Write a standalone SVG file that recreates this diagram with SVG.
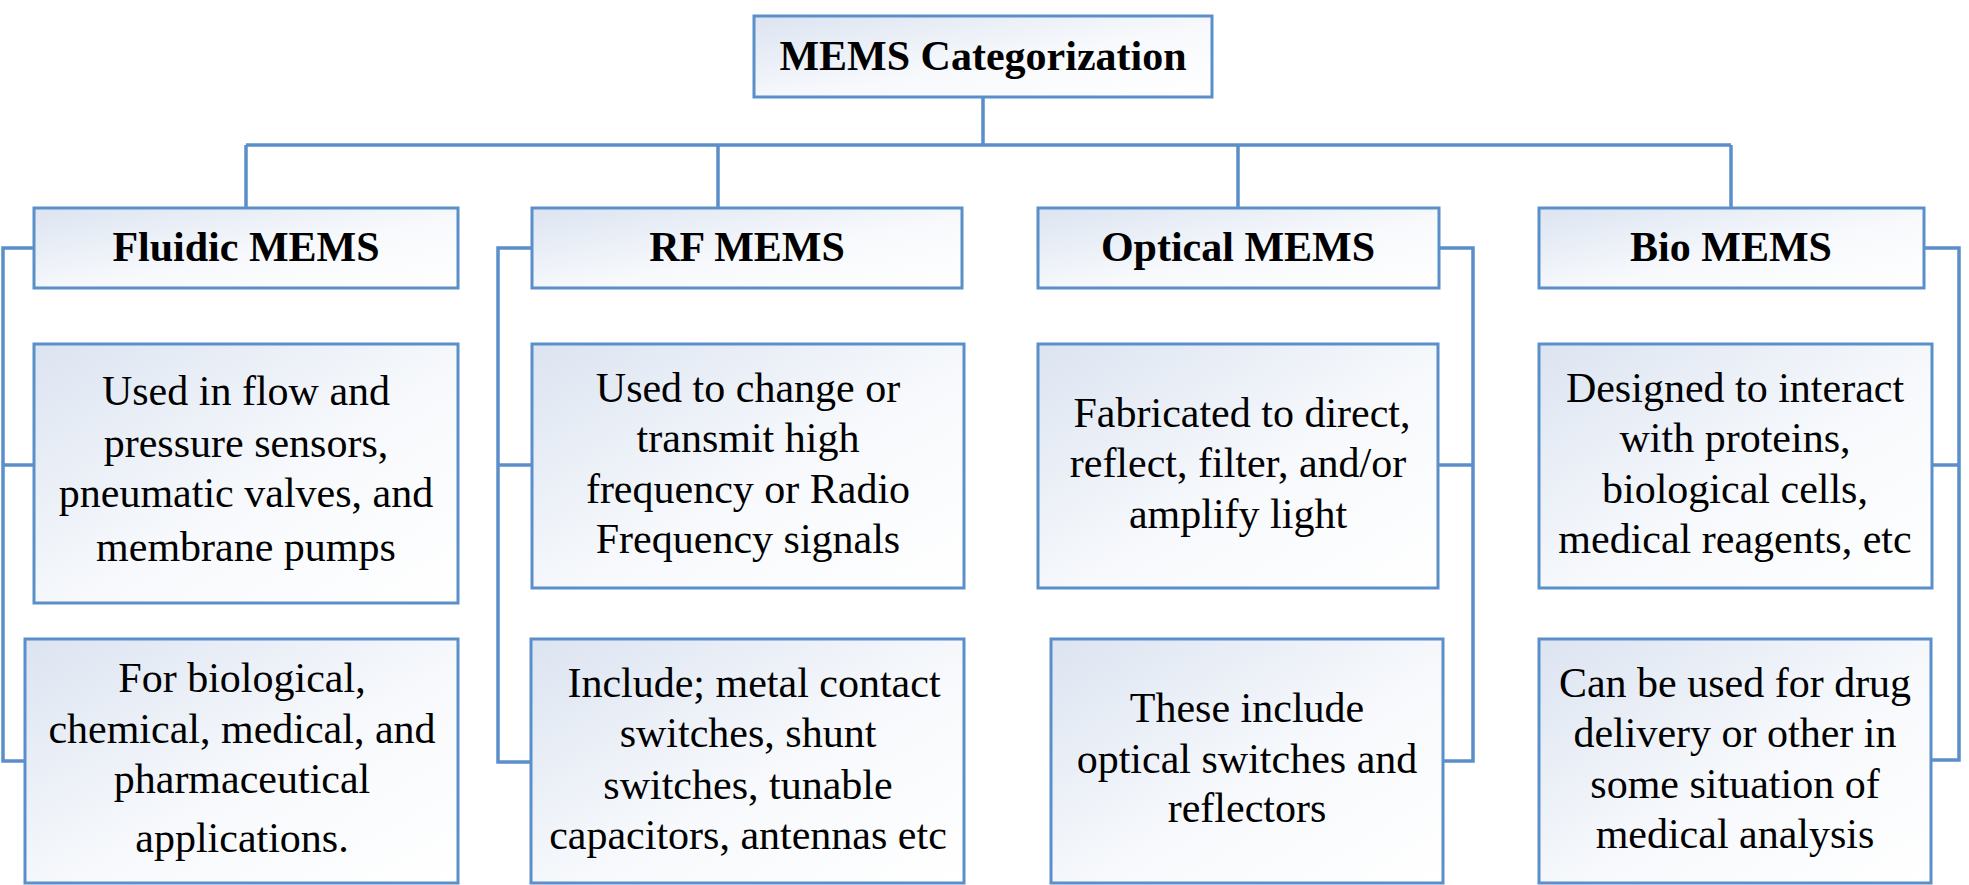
<svg xmlns="http://www.w3.org/2000/svg" width="1969" height="885" viewBox="0 0 1969 885">
<defs>
<linearGradient id="g" x1="0" y1="0" x2="1" y2="1">
<stop offset="0" stop-color="#dce4f1"/>
<stop offset="0.55" stop-color="#f7f9fc"/>
<stop offset="1" stop-color="#ffffff"/>
</linearGradient>
</defs>
<style>
.box{fill:url(#g);stroke:#5b8fc9;stroke-width:3}
.conn{fill:none;stroke:#5b8fc9;stroke-width:3.5}
</style>
<rect width="1969" height="885" fill="#ffffff"/>
<g id="connectors">
<path class="conn" d="M983 97 V145 M246 145 H1731 M246 145 V208 M718 145 V208 M1238 145 V208 M1731 145 V208"/>
<path class="conn" d="M34 248 H3 V761 H25 M3 465 H34"/>
<path class="conn" d="M532 248 H498 V762 H531 M498 465 H532"/>
<path class="conn" d="M1439 248 H1473 V761 H1443 M1473 465 H1438"/>
<path class="conn" d="M1924 248 H1959 V760 H1931 M1959 465 H1932"/>
</g>
<g id="root">
<rect class="box" x="754" y="16" width="458" height="81"/>
<text font-family="Times New Roman, Tinos, serif" font-size="42" font-weight="bold" text-anchor="middle" x="983" y="70">MEMS Categorization</text>
</g>
<g id="fluidic">
<rect class="box" x="34" y="208" width="424" height="80"/>
<text font-family="Times New Roman, Tinos, serif" font-size="42" font-weight="bold" text-anchor="middle" x="246" y="261">Fluidic MEMS</text>
</g>
<g id="fluidic-1">
<rect class="box" x="34" y="344" width="424" height="259"/>
<text font-family="Times New Roman, Tinos, serif" font-size="42" text-anchor="middle" x="246" y="405">Used in flow and</text>
<text font-family="Times New Roman, Tinos, serif" font-size="42" text-anchor="middle" x="246" y="457">pressure sensors,</text>
<text font-family="Times New Roman, Tinos, serif" font-size="42" text-anchor="middle" x="246" y="507">pneumatic valves, and</text>
<text font-family="Times New Roman, Tinos, serif" font-size="42" text-anchor="middle" x="246" y="561">membrane pumps</text>
</g>
<g id="fluidic-2">
<rect class="box" x="25" y="639" width="433" height="244"/>
<text font-family="Times New Roman, Tinos, serif" font-size="42" text-anchor="middle" x="242" y="692">For biological,</text>
<text font-family="Times New Roman, Tinos, serif" font-size="42" text-anchor="middle" x="242" y="743">chemical, medical, and</text>
<text font-family="Times New Roman, Tinos, serif" font-size="42" text-anchor="middle" x="242" y="793">pharmaceutical</text>
<text font-family="Times New Roman, Tinos, serif" font-size="42" text-anchor="middle" x="242" y="852">applications.</text>
</g>
<g id="rf">
<rect class="box" x="532" y="208" width="430" height="80"/>
<text font-family="Times New Roman, Tinos, serif" font-size="42" font-weight="bold" text-anchor="middle" x="747" y="261">RF MEMS</text>
</g>
<g id="rf-1">
<rect class="box" x="532" y="344" width="432" height="244"/>
<text font-family="Times New Roman, Tinos, serif" font-size="42" text-anchor="middle" x="748" y="402">Used to change or</text>
<text font-family="Times New Roman, Tinos, serif" font-size="42" text-anchor="middle" x="748" y="452">transmit high</text>
<text font-family="Times New Roman, Tinos, serif" font-size="42" text-anchor="middle" x="748" y="503">frequency or Radio</text>
<text font-family="Times New Roman, Tinos, serif" font-size="42" text-anchor="middle" x="748" y="553">Frequency signals</text>
</g>
<g id="rf-2">
<rect class="box" x="531" y="639" width="433" height="244"/>
<text font-family="Times New Roman, Tinos, serif" font-size="42" text-anchor="middle" x="754" y="697">Include; metal contact</text>
<text font-family="Times New Roman, Tinos, serif" font-size="42" text-anchor="middle" x="748" y="747">switches, shunt</text>
<text font-family="Times New Roman, Tinos, serif" font-size="42" text-anchor="middle" x="748" y="799">switches, tunable</text>
<text font-family="Times New Roman, Tinos, serif" font-size="42" text-anchor="middle" x="748" y="849">capacitors, antennas etc</text>
</g>
<g id="optical">
<rect class="box" x="1038" y="208" width="401" height="80"/>
<text font-family="Times New Roman, Tinos, serif" font-size="42" font-weight="bold" text-anchor="middle" x="1238" y="261">Optical MEMS</text>
</g>
<g id="optical-1">
<rect class="box" x="1038" y="344" width="400" height="244"/>
<text font-family="Times New Roman, Tinos, serif" font-size="42" text-anchor="middle" x="1242" y="427">Fabricated to direct,</text>
<text font-family="Times New Roman, Tinos, serif" font-size="42" text-anchor="middle" x="1238" y="477">reflect, filter, and/or</text>
<text font-family="Times New Roman, Tinos, serif" font-size="42" text-anchor="middle" x="1238" y="528">amplify light</text>
</g>
<g id="optical-2">
<rect class="box" x="1051" y="639" width="392" height="244"/>
<text font-family="Times New Roman, Tinos, serif" font-size="42" text-anchor="middle" x="1247" y="722">These include</text>
<text font-family="Times New Roman, Tinos, serif" font-size="42" text-anchor="middle" x="1247" y="773">optical switches and</text>
<text font-family="Times New Roman, Tinos, serif" font-size="42" text-anchor="middle" x="1247" y="822">reflectors</text>
</g>
<g id="bio">
<rect class="box" x="1539" y="208" width="385" height="80"/>
<text font-family="Times New Roman, Tinos, serif" font-size="42" font-weight="bold" text-anchor="middle" x="1731" y="261">Bio MEMS</text>
</g>
<g id="bio-1">
<rect class="box" x="1539" y="344" width="393" height="244"/>
<text font-family="Times New Roman, Tinos, serif" font-size="42" text-anchor="middle" x="1735" y="402">Designed to interact</text>
<text font-family="Times New Roman, Tinos, serif" font-size="42" text-anchor="middle" x="1735" y="452">with proteins,</text>
<text font-family="Times New Roman, Tinos, serif" font-size="42" text-anchor="middle" x="1735" y="503">biological cells,</text>
<text font-family="Times New Roman, Tinos, serif" font-size="42" text-anchor="middle" x="1735" y="553">medical reagents, etc</text>
</g>
<g id="bio-2">
<rect class="box" x="1539" y="639" width="392" height="244"/>
<text font-family="Times New Roman, Tinos, serif" font-size="42" text-anchor="middle" x="1735" y="697">Can be used for drug</text>
<text font-family="Times New Roman, Tinos, serif" font-size="42" text-anchor="middle" x="1735" y="747">delivery or other in</text>
<text font-family="Times New Roman, Tinos, serif" font-size="42" text-anchor="middle" x="1735" y="798">some situation of</text>
<text font-family="Times New Roman, Tinos, serif" font-size="42" text-anchor="middle" x="1735" y="848">medical analysis</text>
</g>
</svg>
